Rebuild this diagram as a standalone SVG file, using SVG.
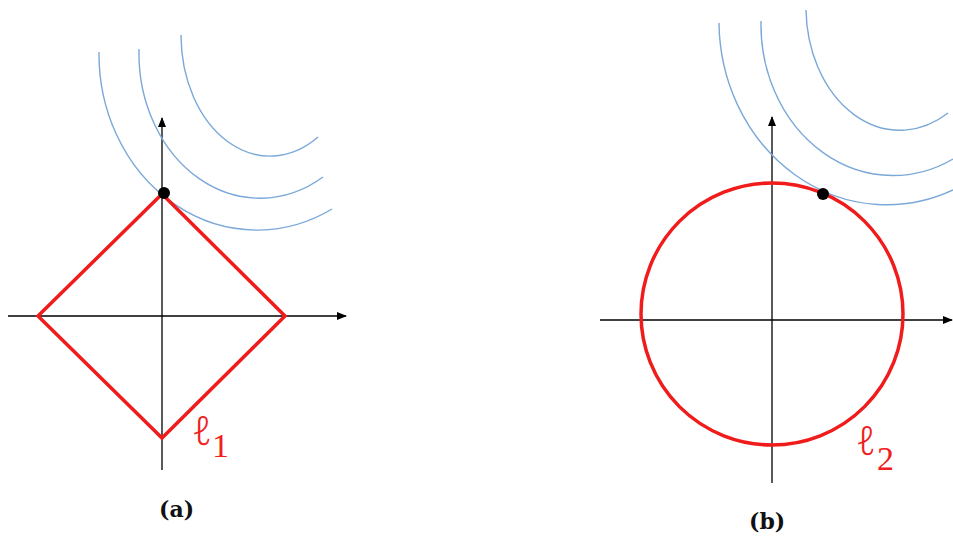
<svg xmlns="http://www.w3.org/2000/svg" width="953" height="536" viewBox="0 0 953 536">
<defs>
<marker id="ah" viewBox="0 0 10 8" refX="9" refY="4" markerWidth="10" markerHeight="8" markerUnits="userSpaceOnUse" orient="auto">
<path d="M0,0 L10,4 L0,8 Z" fill="#000"/>
</marker>
</defs>
<style>
.axis{stroke:#000;stroke-width:1.3;fill:none;marker-end:url(#ah)}
.lvl{stroke:#7aa8d8;stroke-width:1.4;fill:none}
.ball{stroke:#f01c1c;stroke-width:3.5;fill:none}
.dot{fill:#000}
.lab{font-family:"Noto Sans","DejaVu Sans",sans-serif;font-style:italic;font-weight:300;fill:#f02020}
.sub{font-family:"Liberation Serif",serif;font-style:normal;font-weight:normal;fill:#f02020}
.cap{font-family:"DejaVu Serif","Liberation Serif",serif;font-weight:bold;font-size:22px;fill:#111}
</style>
<rect width="953" height="536" fill="#fff"/>
<g id="connectors">
<line class="axis" x1="8" y1="316" x2="346" y2="316"/>
<line class="axis" x1="162" y1="470" x2="162" y2="118"/>
<line class="axis" x1="600" y1="320" x2="952" y2="320"/>
<line class="axis" x1="772" y1="483" x2="772" y2="117"/>
</g>
<g id="panel-a">
<path class="lvl" d="M99,52 A158,176 0 0 0 332,209"/>
<path class="lvl" d="M139,49 A121,145 0 0 0 323,177"/>
<path class="lvl" d="M181,35 A89,121 0 0 0 318,137"/>
<polygon class="ball" points="162,194 285,316 162,438 38,316"/>
<circle class="dot" cx="164" cy="193" r="6"/>
<text class="lab" x="192" y="445" font-size="40">ℓ</text>
<text class="sub" x="212" y="457" font-size="34">1</text>
<text class="cap" x="159" y="517">(a)</text>
</g>
<g id="panel-b">
<path class="lvl" d="M719,23 A168,184 0 0 0 953,190"/>
<path class="lvl" d="M761,21 A132,151 0 0 0 953,159"/>
<path class="lvl" d="M806,10 A94,123 0 0 0 948,113"/>
<circle class="ball" cx="772" cy="314" r="131"/>
<circle class="dot" cx="823" cy="194" r="6"/>
<text class="lab" x="856" y="455" font-size="40">ℓ</text>
<text class="sub" x="877" y="470" font-size="34">2</text>
<text class="cap" x="749" y="529">(b)</text>
</g>
</svg>
